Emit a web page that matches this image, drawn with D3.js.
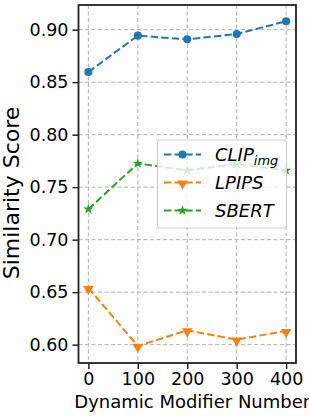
<!DOCTYPE html>
<html>
<head>
<meta charset="utf-8">
<script src="https://cdn.jsdelivr.net/npm/d3@7"></script>
<style>
  body { margin: 0; background: #fff; }
  text { font-family: "DejaVu Sans", sans-serif; }
</style>
</head>
<body>
<div id="chart"></div>
<script>
// values
const modifiers = [0, 100, 200, 300, 400];
const clipImg = [0.8597, 0.8943, 0.8908, 0.8959, 0.9080];
const lpips = [0.6540, 0.5987, 0.6136, 0.6048, 0.6130];
const sbert = [0.7290, 0.7726, 0.7660, 0.7720, 0.7660];
const xTicks = [0, 100, 200, 300, 400];
const yTicks = [0.60, 0.65, 0.70, 0.75, 0.80, 0.85, 0.90];

const series = [
  {name: "CLIP", sub: "img", values: clipImg, color: "#1f77b4", marker: "circle"},
  {name: "LPIPS", sub: null, values: lpips, color: "#ff7f0e", marker: "tri"},
  {name: "SBERT", sub: null, values: sbert, color: "#2ca02c", marker: "star"}
];

const width = 309, height = 416;
const plot = {left: 78.5, right: 296, top: 5, bottom: 363};

const svg = d3.select("#chart").append("svg")
  .attr("width", width)
  .attr("height", height);

const x = d3.scaleLinear().domain([-20, 420]).range([plot.left, plot.right]);
const y = d3.scaleLinear().domain([0.5825, 0.9235]).range([plot.bottom, plot.top]);

// grid
const grid = svg.append("g")
  .attr("stroke", "#b0b0b0")
  .attr("stroke-width", 1)
  .attr("stroke-dasharray", "4,2.5");
grid.selectAll("line.v").data(xTicks).enter().append("line")
  .attr("x1", d => x(d)).attr("x2", d => x(d))
  .attr("y1", plot.top).attr("y2", plot.bottom);
grid.selectAll("line.h").data(yTicks).enter().append("line")
  .attr("x1", plot.left).attr("x2", plot.right)
  .attr("y1", d => y(d)).attr("y2", d => y(d));

function markerPath(type, s) {
  if (type === "circle") return d3.symbol(d3.symbolCircle, 52)();
  if (type === "tri") return d3.symbol(d3.symbolTriangle, 48)();
  return d3.symbol(d3.symbolStar, 34)();
}
function markerTransform(type, px, py) {
  if (type === "tri") return "translate(" + px + "," + (py + 1) + ") rotate(180)";
  return "translate(" + px + "," + py + ")";
}

const line = d3.line().x((d, i) => x(modifiers[i])).y(d => y(d));

series.forEach(s => {
  const g = svg.append("g");
  g.append("path")
    .attr("d", line(s.values))
    .attr("fill", "none")
    .attr("stroke", s.color)
    .attr("stroke-width", 2)
    .attr("stroke-dasharray", "7.4,3.2");
  g.selectAll("path.m").data(s.values).enter().append("path")
    .attr("d", markerPath(s.marker))
    .attr("transform", (d, i) => markerTransform(s.marker, x(modifiers[i]), y(d)))
    .attr("fill", s.color);
});

// axes
const xAxis = svg.append("g")
  .attr("transform", "translate(0," + plot.bottom + ")")
  .call(d3.axisBottom(x).tickValues(xTicks).tickSize(6).tickPadding(4).tickFormat(d3.format("d")));
const yAxis = svg.append("g")
  .attr("transform", "translate(" + plot.left + ",0)")
  .call(d3.axisLeft(y).tickValues(yTicks).tickSize(6).tickPadding(4).tickFormat(d3.format(".2f")));
[xAxis, yAxis].forEach(a => {
  a.select(".domain").remove();
  a.selectAll(".tick line").attr("stroke", "#000").attr("stroke-width", 1.3);
  a.selectAll(".tick text")
    .attr("font-family", "DejaVu Sans")
    .attr("font-size", 17.5)
    .attr("fill", "#000");
});

svg.append("rect")
  .attr("x", plot.left).attr("y", plot.top)
  .attr("width", plot.right - plot.left).attr("height", plot.bottom - plot.top)
  .attr("fill", "none")
  .attr("stroke", "#222")
  .attr("stroke-width", 1.8);

svg.append("text")
  .attr("x", (plot.left + plot.right) / 2 + 5)
  .attr("y", 408)
  .attr("text-anchor", "middle")
  .attr("font-size", 18)
  .text("Dynamic Modifier Number");

svg.append("text")
  .attr("transform", "translate(19,193) rotate(-90)")
  .attr("text-anchor", "middle")
  .attr("font-size", 22)
  .text("Similarity Score");

// legend
const legend = svg.append("g");
legend.append("rect")
  .attr("x", 157.5).attr("y", 140)
  .attr("width", 129).attr("height", 88)
  .attr("rx", 3)
  .attr("fill", "#fff")
  .attr("fill-opacity", 0.8)
  .attr("stroke", "#cccccc")
  .attr("stroke-width", 1);
series.forEach((s, i) => {
  const ly = 154.5 + i * 28;
  legend.append("line")
    .attr("x1", 164).attr("x2", 201)
    .attr("y1", ly).attr("y2", ly)
    .attr("stroke", s.color)
    .attr("stroke-width", 2)
    .attr("stroke-dasharray", "7.4,3.2");
  legend.append("path")
    .attr("d", markerPath(s.marker))
    .attr("transform", markerTransform(s.marker, 182.5, ly))
    .attr("fill", s.color);
  const t = legend.append("text")
    .attr("x", 215)
    .attr("y", ly + 6.5)
    .attr("font-size", 18)
    .attr("font-style", "italic");
  t.append("tspan").text(s.name);
  if (s.sub) t.append("tspan").attr("font-size", 13).attr("dy", 4).text(s.sub);
});
</script>
</body>
</html>
